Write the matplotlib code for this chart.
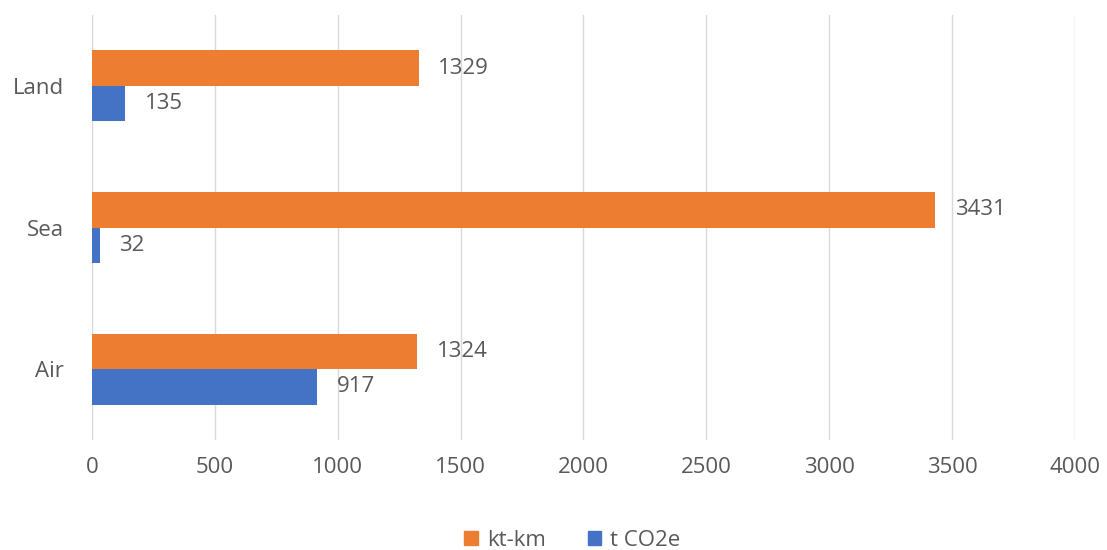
import numpy as np
import matplotlib.pyplot as plt
from matplotlib.patches import Patch

plt.rcParams['font.family'] = ['Open Sans', 'DejaVu Sans']

# Datos
categorias = ["Air", "Sea", "Land"]
kt_km = [1324, 3431, 1329]
t_co2e = [917, 32, 135]
ticks_x = [0, 500, 1000, 1500, 2000, 2500, 3000, 3500, 4000]

naranja = "#ED7D31"
azul = "#4472C4"
gris = "#595959"
fs = 16

fig = plt.figure(figsize=(11.07, 5.5), dpi=100)
ax = fig.add_axes([0.0831, 0.2, 0.888, 0.7727])

y = np.arange(len(categorias))
h = 0.25
b1 = ax.barh(y + h / 2, kt_km, height=h, color=naranja)
b2 = ax.barh(y - h / 2, t_co2e, height=h, color=azul)

ax.bar_label(b1, padding=14, fontsize=fs, color=gris)
ax.bar_label(b2, padding=14, fontsize=fs, color=gris)

ax.set_xlim(0, 4000)
ax.set_ylim(-0.5, 2.5)
ax.set_xticks(ticks_x)
ax.set_yticks(y)
ax.set_yticklabels(categorias)
ax.tick_params(axis="both", length=0, labelsize=fs, labelcolor=gris)
ax.tick_params(axis="x", pad=12)
ax.tick_params(axis="y", pad=20)
ax.grid(axis="x", color="#D9D9D9", linewidth=1)
ax.set_axisbelow(True)
for s in ax.spines.values():
    s.set_visible(False)

handles = [Patch(color=naranja, label="kt-km"), Patch(color=azul, label="t CO2e")]
fig.legend(handles=handles, loc="center", bbox_to_anchor=(0.517, 0.018), ncol=2,
           frameon=False, fontsize=fs, labelcolor=gris, handlelength=0.6,
           handleheight=0.6, handletextpad=0.4, columnspacing=1.9)

fig.savefig("out.png", dpi=100)
